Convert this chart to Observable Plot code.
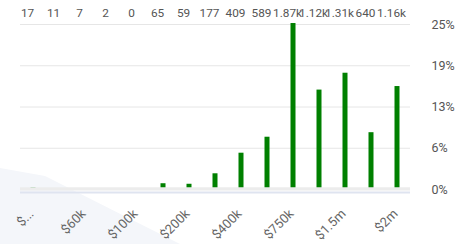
<!DOCTYPE html>
<html><head><meta charset="utf-8">
<script src="https://cdn.jsdelivr.net/npm/d3@7"></script>
<script src="https://cdn.jsdelivr.net/npm/@observablehq/plot@0.6"></script>
<style>
html,body{margin:0;padding:0;background:#fff;}
#wrap{position:relative;width:456px;height:244px;overflow:hidden;}
#bg{position:absolute;left:0;top:0;width:456px;height:244px;background:#f4f6fa;clip-path:polygon(0 168px,45px 176px,180px 244px,0 244px);}
#chart{position:absolute;left:0;top:0;}
</style></head><body>
<div id="wrap"><div id="bg"></div><div id="chart"></div></div>
<script>
const counts = [17, 11, 7, 2, 0, 65, 59, 177, 409, 589, 1870, 1120, 1310, 640, 1160];
const tickLabels = ["$...", "$60k", "$100k", "$200k", "$400k", "$750k", "$1.5m", "$2m"];
const yTicks = [0, 6.25, 12.5, 18.75, 25];

const total = d3.sum(counts);
const data = counts.map((c, i) => ({bin: i, count: c, pct: c / total * 100, label: i % 2 === 0 ? tickLabels[i / 2] : null}));
const fmt = c => c >= 1000 ? (c / 1000).toFixed(2) + "k" : String(c);

const plot = Plot.plot({
  width: 456, height: 244,
  marginTop: 24, marginBottom: 55, marginLeft: 20, marginRight: 46,
  style: {background: "transparent", fontFamily: "Roboto", fontSize: "12.5px", color: "#555"},
  x: {type: "band", domain: data.map(d => d.bin), padding: 0, axis: null},
  y: {domain: [0, 25], axis: "right", ticks: yTicks, tickFormat: d => Math.round(d) + "%", tickSize: 0, tickPadding: 21, label: null},
  marks: [
    Plot.ruleY(yTicks.slice(1), {stroke: "#e6e6e6"}),
    Plot.ruleY([0], {stroke: "#dfe4f0", strokeWidth: 2, dy: 3}),
    Plot.barY(data, {x: "bin", y: "pct", fill: "#008000", insetLeft: 10.5, insetRight: 10.5}),
    Plot.ruleY([0], {stroke: "#ececec", strokeWidth: 3.2, dy: -0.6}),
    Plot.text(data, {x: "bin", text: d => fmt(d.count), frameAnchor: "top", dy: -16, dx: -6, fontSize: 11.8, fill: "#555"}),
    Plot.text(data.filter(d => d.label), {x: "bin", text: "label", frameAnchor: "bottom", dy: 25, dx: 1, rotate: -45, textAnchor: "end", fontSize: 13, fill: "#666"})
  ]
});
document.getElementById("chart").appendChild(plot);
</script>
</body></html>
